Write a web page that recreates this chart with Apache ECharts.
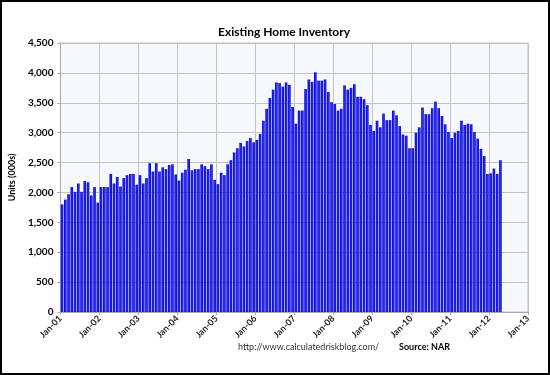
<!DOCTYPE html>
<html>
<head>
<meta charset="utf-8">
<script src="https://cdn.jsdelivr.net/npm/echarts@6/dist/echarts.min.js"></script>
<style>
html,body{margin:0;padding:0;background:#fff;}
#chart{width:550px;height:375px;}
</style>
</head>
<body>
<div id="chart"></div>
<script>
// Monthly existing home inventory (000s), Jan-2001 .. Apr-2012
const inventory = [
  1800, 1880, 1970, 2090, 2010, 2150, 2010, 2190, 2170, 1950, 2090, 1830,
  2090, 2090, 2090, 2310, 2150, 2260, 2100, 2240, 2290, 2310, 2310, 2130,
  2290, 2150, 2240, 2490, 2350, 2490, 2350, 2420, 2390, 2460, 2470, 2300,
  2200, 2330, 2380, 2560, 2370, 2390, 2390, 2470, 2440, 2390, 2470, 2210,
  2140, 2330, 2290, 2470, 2540, 2670, 2740, 2830, 2770, 2860, 2910, 2840,
  2880, 2980, 3200, 3400, 3580, 3720, 3840, 3830, 3770, 3840, 3800, 3430,
  3150, 3370, 3370, 3730, 3890, 3850, 4010, 3870, 3870, 3890, 3680, 3510,
  3480, 3370, 3400, 3790, 3720, 3750, 3810, 3600, 3600, 3560, 3460, 3130,
  3030, 3200, 3090, 3320, 3210, 3210, 3370, 3290, 3110, 2970, 2950, 2740,
  2740, 3000, 3090, 3420, 3310, 3310, 3410, 3520, 3410, 3280, 3140, 3010,
  2910, 3000, 3030, 3200, 3130, 3150, 3140, 3010, 2900, 2730, 2610, 2310,
  2320, 2400, 2310, 2540
];
const xTickLabels = ['Jan-01','Jan-02','Jan-03','Jan-04','Jan-05','Jan-06','Jan-07',
  'Jan-08','Jan-09','Jan-10','Jan-11','Jan-12','Jan-13'];
const yTickValues = [0, 500, 1000, 1500, 2000, 2500, 3000, 3500, 4000, 4500];
const titleText = 'Existing Home Inventory';
const yAxisName = 'Units (000s)';
const footerUrl = 'http://www.calculatedriskblog.com/';
const footerSource = 'Source: NAR';

const monthsPerTick = 12;
const seriesData = inventory.map((v, i) => [i + 0.5, v]);

const chart = echarts.init(document.getElementById('chart'), null, {renderer: 'canvas'});
const fontFam = 'Lato, "Open Sans", sans-serif';
chart.setOption({
  animation: false,
  backgroundColor: '#ffffff',
  title: {
    text: titleText,
    left: 279, top: 21, textAlign: 'center',
    textStyle: {fontFamily: fontFam, fontSize: 12, fontWeight: 'bold', color: '#000'}
  },
  grid: {
    left: 58, right: 22, top: 43, bottom: 63,
    show: true, backgroundColor: '#f5f8fd', borderColor: '#c4c4c4', borderWidth: 1
  },
  xAxis: {
    type: 'value',
    min: 0, max: (xTickLabels.length - 1) * monthsPerTick, interval: monthsPerTick,
    axisLine: {show: true, lineStyle: {color: '#a8a8a8'}},
    axisTick: {show: true, length: 3, lineStyle: {color: '#a8a8a8'}},
    splitLine: {show: true, lineStyle: {color: '#c4c4c4', width: 1}},
    axisLabel: {
      rotate: 45, margin: 5, fontFamily: fontFam, fontSize: 9, fontWeight: 'bold', color: '#222',
      formatter: v => xTickLabels[Math.round(v / monthsPerTick)] || ''
    }
  },
  yAxis: {
    type: 'value',
    min: yTickValues[0], max: yTickValues[yTickValues.length - 1],
    interval: yTickValues[1] - yTickValues[0],
    name: yAxisName, nameLocation: 'middle', nameGap: 39, nameRotate: 90,
    nameTextStyle: {fontFamily: fontFam, fontSize: 9, fontWeight: 'bold', color: '#000'},
    axisLine: {show: true, lineStyle: {color: '#a8a8a8'}},
    axisTick: {show: true, length: 3, lineStyle: {color: '#a8a8a8'}},
    splitLine: {show: true, lineStyle: {color: '#c4c4c4', width: 1}},
    axisLabel: {
      margin: 7, fontFamily: fontFam, fontSize: 10, fontWeight: 'bold', color: '#000',
      formatter: v => v.toLocaleString('en-US')
    }
  },
  series: [{
    type: 'bar',
    data: seriesData,
    barWidth: 2.6,
    itemStyle: {
      color: new echarts.graphic.LinearGradient(0, 0, 1, 0, [
        {offset: 0, color: '#0000d8'},
        {offset: 0.55, color: '#2828ff'},
        {offset: 1, color: '#0000b8'}
      ])
    }
  }],
  graphic: [
    {type: 'text', left: 238, top: 343,
      style: {text: footerUrl, font: '9px ' + fontFam, fill: '#333'}},
    {type: 'text', left: 399, top: 343,
      style: {text: footerSource, font: 'bold 9px ' + fontFam, fill: '#000'}},
    {type: 'rect', shape: {x: 1, y: 1, width: 548, height: 373},
      style: {fill: null, stroke: '#000', lineWidth: 2}, silent: true}
  ]
});
</script>
</body>
</html>
